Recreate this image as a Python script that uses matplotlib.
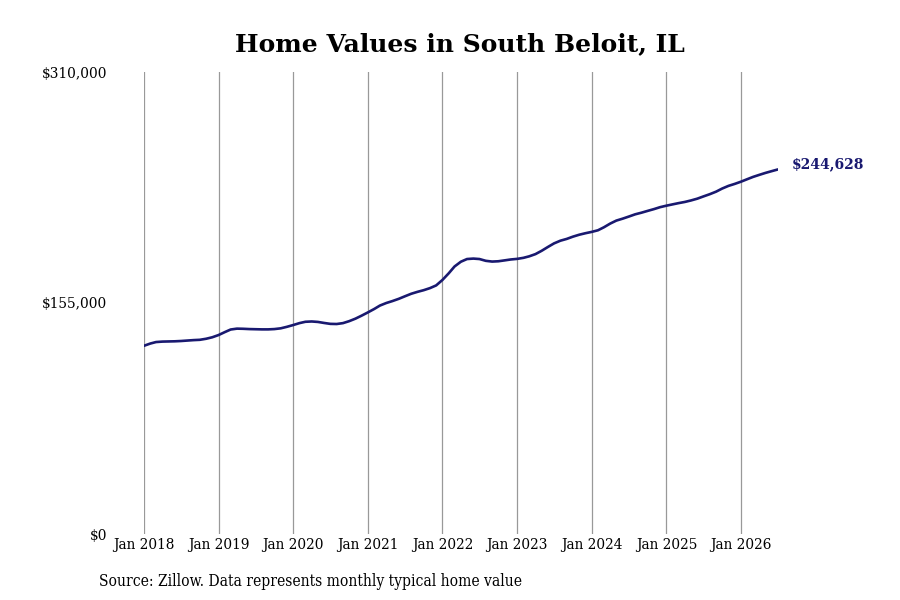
import datetime as dt
import matplotlib
matplotlib.use("Agg")
import matplotlib.pyplot as plt
import matplotlib.dates as mdates
from matplotlib.ticker import FixedLocator, FuncFormatter

# monthly typical home value, Jan 2018 - Jul 2026
values_2018 = [126300, 127800, 128800, 129100, 129200, 129300, 129500, 129800, 130100, 130300, 131000, 132000]
values_2019 = [133500, 135500, 137200, 137800, 137700, 137500, 137400, 137300, 137300, 137500, 138000, 139000]
values_2020 = [140200, 141500, 142400, 142600, 142300, 141600, 141000, 140900, 141500, 142800, 144500, 146500]
values_2021 = [148700, 151000, 153300, 155000, 156300, 157800, 159500, 161200, 162500, 163600, 165000, 166800]
values_2022 = [170500, 175000, 179500, 182700, 184500, 184800, 184500, 183300, 182800, 183000, 183600, 184200]
values_2023 = [184600, 185300, 186300, 187800, 190000, 192600, 195000, 196800, 198000, 199500, 200800, 201800]
values_2024 = [202700, 203800, 205800, 208300, 210300, 211600, 213000, 214500, 215600, 216800, 218000, 219300]
values_2025 = [220300, 221200, 222000, 222800, 223800, 225000, 226500, 228000, 229700, 231800, 233600, 234900]
values_2026 = [236400, 238100, 239600, 241000, 242300, 243500, 244628]

values = (values_2018 + values_2019 + values_2020 + values_2021 + values_2022
          + values_2023 + values_2024 + values_2025 + values_2026)
dates = [dt.date(2018 + i // 12, i % 12 + 1, 1) for i in range(len(values))]

y_ticks = [0, 155000, 310000]

title = "Home Values in South Beloit, IL"
source = "Source: Zillow. Data represents monthly typical home value"
line_color = "#191970"

fig = plt.figure(figsize=(9, 6), dpi=100)
ax = fig.add_axes([0.16, 0.11, 0.8644 - 0.16, 0.77])

ax.plot(dates, values, color=line_color, linewidth=1.9, solid_capstyle="round")

ax.set_ylim(0, 310000)
ax.set_xlim(dates[0], dates[-1])

ax.xaxis.set_major_locator(mdates.YearLocator())
ax.xaxis.set_major_formatter(mdates.DateFormatter("%b %Y"))
ax.yaxis.set_major_locator(FixedLocator(y_ticks))
ax.yaxis.set_major_formatter(FuncFormatter(lambda v, p: f"${v:,.0f}"))

ax.grid(axis="x", color="#999999", linewidth=0.9)
ax.grid(axis="y", visible=False)
for s in ax.spines.values():
    s.set_visible(False)
ax.tick_params(axis="both", length=0, labelsize=11)
ax.tick_params(axis="x", pad=3)
ax.tick_params(axis="y", pad=26.5)
for lab in ax.get_xticklabels() + ax.get_yticklabels():
    lab.set_fontfamily("DejaVu Serif")
    lab.set_fontstretch("condensed")

ax.annotate(f"${values[-1]:,}", xy=(dates[-1], values[-1]), xytext=(10, 4),
            textcoords="offset points", ha="left", va="center",
            color=line_color, fontsize=10, fontweight="bold", annotation_clip=False,
            family="DejaVu Serif")

fig.text(0.511, 0.927, title, ha="center", va="center", fontsize=18,
         fontweight="bold", family="DejaVu Serif")
fig.text(0.11, 0.031, source, ha="left", va="center", fontsize=11.2,
         family="DejaVu Serif", stretch="condensed")

fig.savefig("out.png", dpi=100, facecolor="white")
